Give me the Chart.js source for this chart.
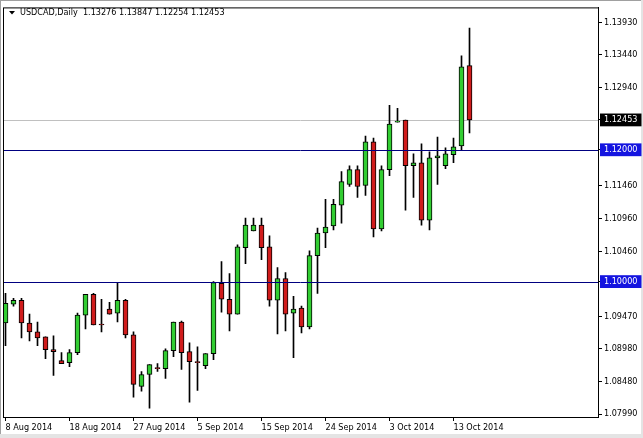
<!DOCTYPE html>
<html>
<head>
<meta charset="utf-8">
<script src="https://cdn.jsdelivr.net/npm/chart.js@4.4.1/dist/chart.umd.min.js"></script>
<style>
  html, body { margin: 0; padding: 0; background: #fff; }
  canvas { display: block; }
</style>
</head>
<body>
<canvas id="chart" width="643" height="438"></canvas>
<script>
// USDCAD daily candles, 8 Aug 2014 .. 14 Oct 2014 (broker with Sunday bars)
const titleText = 'USDCAD,Daily  1.13276 1.13847 1.12254 1.12453';

const opens = [
  1.09372, 1.09657, 1.09717, 1.09372, 1.09237, 1.09162, 1.08967, 1.08801, 1.08771, 1.08922,
  1.09492, 1.09807, 1.09357, 1.09582, 1.09522, 1.09717, 1.09192, 1.08411, 1.08591, 1.08696,
  1.08681, 1.08952, 1.09387, 1.08937, 1.08786, 1.08726, 1.08907, 1.09972, 1.09732, 1.09507,
  1.10513, 1.10768, 1.10858, 1.10528, 1.09717, 1.10047, 1.09522, 1.09597, 1.09312, 1.10393,
  1.10738, 1.10843, 1.11158, 1.11473, 1.11698, 1.11458, 1.12119, 1.10798, 1.11698, 1.12419,
  1.12449, 1.11758, 1.11803, 1.10933, 1.11878, 1.11758, 1.11924, 1.12059, 1.13276
];
const highs = [
  1.09822, 1.09747, 1.09747, 1.09507, 1.09387, 1.09162, 1.09177, 1.08922, 1.08967, 1.09522,
  1.09807, 1.09822, 1.09732, 1.09687, 1.09972, 1.09732, 1.09237, 1.08636, 1.08741, 1.08756,
  1.08982, 1.09387, 1.09402, 1.09072, 1.09012, 1.08907, 1.10002, 1.10302, 1.10122, 1.10558,
  1.10963, 1.10963, 1.10963, 1.10693, 1.10212, 1.10137, 1.09777, 1.09627, 1.10468, 1.10813,
  1.11248, 1.11248, 1.11668, 1.11758, 1.11758, 1.12209, 1.12179, 1.11758, 1.12674, 1.12629,
  1.12449, 1.11939, 1.12089, 1.11969, 1.12194, 1.12029, 1.12179, 1.13424, 1.13847
];
const lows = [
  1.09027, 1.09627, 1.09147, 1.09102, 1.09027, 1.08831, 1.08576, 1.08756, 1.08711, 1.08892,
  1.09282, 1.09342, 1.09237, 1.09507, 1.09387, 1.09147, 1.08246, 1.08336, 1.08081, 1.08636,
  1.08531, 1.08861, 1.08666, 1.08171, 1.08351, 1.08681, 1.08816, 1.09537, 1.09252, 1.09507,
  1.10272, 1.10768, 1.10332, 1.09627, 1.09207, 1.09252, 1.08846, 1.09222, 1.09282, 1.09822,
  1.10513, 1.10783, 1.10888, 1.11443, 1.11278, 1.11308, 1.10678, 1.10768, 1.11608, 1.12419,
  1.11083, 1.11278, 1.10858, 1.10783, 1.11473, 1.11713, 1.11803, 1.11999, 1.12254
];
const closes = [
  1.09672, 1.09717, 1.09372, 1.09237, 1.09147, 1.08967, 1.08937, 1.08756, 1.08922, 1.09492,
  1.09807, 1.09342, 1.09342, 1.09507, 1.09717, 1.09192, 1.08441, 1.08591, 1.08741, 1.08681,
  1.08952, 1.09387, 1.08922, 1.08786, 1.08771, 1.08907, 1.09987, 1.09732, 1.09507, 1.10528,
  1.10858, 1.10858, 1.10513, 1.09717, 1.10047, 1.09507, 1.09582, 1.09312, 1.10393, 1.10738,
  1.10828, 1.11173, 1.11518, 1.11698, 1.11443, 1.12119, 1.10798, 1.11698, 1.12389, 1.12434,
  1.11758, 1.11803, 1.10933, 1.11878, 1.11909, 1.11939, 1.12044, 1.13259, 1.12453
];

const dateLabels = ['8 Aug 2014', '18 Aug 2014', '27 Aug 2014', '5 Sep 2014', '15 Sep 2014', '24 Sep 2014', '3 Oct 2014', '13 Oct 2014'];
const dateIdx = [0, 8, 16, 24, 32, 40, 48, 56];

const priceTicks = [1.13930, 1.13440, 1.12940, 1.12453, 1.12000, 1.11460, 1.10960, 1.10460, 1.10000, 1.09470, 1.08980, 1.08480, 1.07990];
const levels = [1.12000, 1.10000];
const lastPrice = 1.12453;

const bull = '#32cd32';
const bear = '#d01c1c';
const fontFamily = "'DejaVu Sans Condensed', 'DejaVu Sans', sans-serif";

const idx = opens.map((_, i) => i);
const bodies = idx.map(i => ({ x: i, y: [opens[i], closes[i]] }));
const wicks = idx.map(i => ({ x: i, y: [lows[i], highs[i]] }));
const bodyColors = idx.map(i => closes[i] >= opens[i] ? bull : bear);

const isMarked = v => Math.abs(v - lastPrice) < 1e-7 || levels.some(l => Math.abs(v - l) < 1e-7);

const framePlugin = {
  id: 'frame',
  beforeDraw(chart) {
    const { ctx, width, height } = chart;
    ctx.save();
    ctx.fillStyle = '#fff';
    ctx.fillRect(0, 0, width, height);
    // window edges
    ctx.fillStyle = '#a0a0a0';
    ctx.fillRect(0, 0, width, 1);
    ctx.fillRect(0, 0, 1, height);
    ctx.fillStyle = '#e4e4e4';
    ctx.fillRect(width - 2, 0, 2, height);
    ctx.fillRect(0, height - 4, width, 4);
    ctx.restore();
  },
  beforeDatasetsDraw(chart) {
    const { ctx, chartArea: a, scales: { y } } = chart;
    ctx.save();
    ctx.strokeStyle = '#c0c0c0';
    ctx.lineWidth = 1;
    const py = Math.round(y.getPixelForValue(lastPrice)) + 0.5;
    ctx.beginPath();
    ctx.moveTo(a.left, py);
    ctx.lineTo(a.right, py);
    ctx.stroke();
    ctx.restore();
  },
  afterDatasetsDraw(chart) {
    const { ctx, chartArea: a, scales: { y } } = chart;
    ctx.save();
    ctx.lineWidth = 1;
    ctx.strokeStyle = '#000080';
    levels.forEach(l => {
      const py = Math.round(y.getPixelForValue(l)) + 0.5;
      ctx.beginPath();
      ctx.moveTo(a.left, py);
      ctx.lineTo(a.right, py);
      ctx.stroke();
    });
    ctx.strokeStyle = '#000';
    ctx.strokeRect(a.left + 0.5, a.top + 0.5, a.right - a.left, a.bottom - a.top);

    // header: small triangle + symbol, period and OHLC
    ctx.fillStyle = '#000';
    ctx.beginPath();
    ctx.moveTo(9, 11);
    ctx.lineTo(15, 11);
    ctx.lineTo(12, 14.5);
    ctx.closePath();
    ctx.fill();
    ctx.font = '9px ' + fontFamily;
    ctx.textBaseline = 'middle';
    ctx.textAlign = 'left';
    ctx.fillText(titleText, 20, 13);
    ctx.restore();
  }
};

new Chart(document.getElementById('chart'), {
  type: 'bar',
  data: {
    datasets: [
      {
        label: 'body',
        data: bodies,
        backgroundColor: bodyColors,
        borderColor: '#000',
        borderWidth: 1,
        borderSkipped: false,
        barThickness: 5,
        grouped: false,
        order: 0
      },
      {
        label: 'wick',
        data: wicks,
        backgroundColor: '#000',
        borderWidth: 0,
        barThickness: 1,
        grouped: false,
        order: 1
      }
    ]
  },
  options: {
    responsive: false,
    animation: false,
    devicePixelRatio: 1,
    layout: { padding: { left: 3, top: 3, right: 0, bottom: 0 } },
    plugins: {
      legend: { display: false },
      tooltip: { enabled: false }
    },
    events: [],
    scales: {
      x: {
        type: 'linear',
        offset: false,
        min: -0.3125,
        max: 74.0625,
        afterBuildTicks: scale => { scale.ticks = dateIdx.map(v => ({ value: v })); },
        afterFit: scale => { scale.height = 21; },
        grid: { offset: false, drawOnChartArea: false, drawTicks: true, tickLength: 4, tickColor: '#000' },
        border: { display: true, color: '#000' },
        ticks: {
          autoSkip: false,
          maxRotation: 0,
          align: 'start',
          padding: 1,
          color: '#000',
          font: { family: fontFamily, size: 9 },
          callback: v => dateLabels[dateIdx.indexOf(v)]
        }
      },
      y: {
        position: 'right',
        min: 1.07946,
        max: 1.14160,
        afterBuildTicks: scale => { scale.ticks = priceTicks.map(v => ({ value: v })); },
        afterFit: scale => { scale.width = 45; },
        grid: { drawOnChartArea: false, drawTicks: true, tickLength: 4, tickColor: '#000' },
        border: { display: true, color: '#000' },
        ticks: {
          autoSkip: false,
          padding: 2,
          font: { family: fontFamily, size: 9 },
          color: ctx => isMarked(ctx.tick.value) ? '#fff' : '#000',
          showLabelBackdrop: ctx => isMarked(ctx.tick.value),
          backdropColor: ctx => Math.abs(ctx.tick.value - lastPrice) < 1e-7 ? '#000' : '#1414e0',
          backdropPadding: { top: 1, bottom: 1, left: 4, right: 4 },
          callback: v => v.toFixed(5)
        }
      }
    }
  },
  plugins: [framePlugin]
});
</script>
</body>
</html>
